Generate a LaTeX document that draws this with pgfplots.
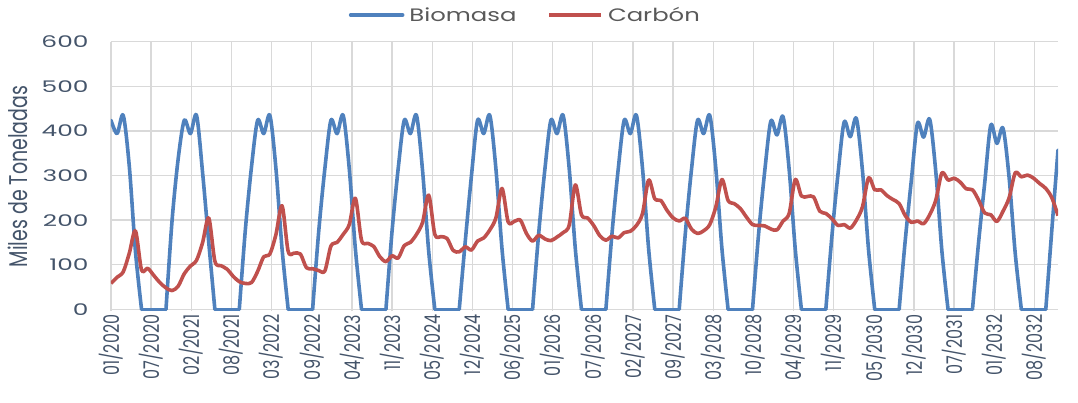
\documentclass[border=0pt]{standalone}
\usepackage{pgfplots}
\pgfplotsset{compat=1.18}
\usepackage{graphicx}
\usepackage{fontspec}
\setmainfont{Poppins}[FakeStretch=1.35]
\newfontfamily\rotfont{Poppins}
\definecolor{bioc}{HTML}{4F81BD}
\definecolor{carc}{HTML}{C0504D}
\definecolor{gridc}{HTML}{D9D9D9}
\definecolor{tickc}{HTML}{44546A}
\definecolor{legc}{HTML}{595959}
% rotated text is stretched across its height, like the horizontal text
\newcommand\sx[1]{\scalebox{1}[1.35]{#1}}
\newcommand\sy[1]{\scalebox{1.15}[1]{#1}}
\tikzset{bio/.style={bioc, line width=3.6pt, smooth, line join=round, line cap=round}}
\begin{document}
\begin{tikzpicture}
\useasboundingbox (-111pt,-90.9pt) rectangle (967pt,311.1pt);
\begin{axis}[
    at={(0pt,0pt)}, anchor=south west,
    scale only axis, width=947pt, height=269.4pt,
    xmin=0, xmax=155, ymin=-4, ymax=600,
    xtick={0,6.5708,13.1417,19.7125,26.2834,32.8542,39.4251,45.9959,52.5667,
        59.1376,65.7084,72.2793,78.8501,85.4209,91.9918,98.5626,105.1335,
        111.7043,118.2752,124.8460,131.4168,137.9877,144.5585,151.1294},
    xticklabels={\sx{01/2020},\sx{07/2020},\sx{02/2021},\sx{08/2021},\sx{03/2022},
        \sx{09/2022},\sx{04/2023},\sx{11/2023},\sx{05/2024},\sx{12/2024},
        \sx{06/2025},\sx{01/2026},\sx{07/2026},\sx{02/2027},\sx{09/2027},
        \sx{03/2028},\sx{10/2028},\sx{04/2029},\sx{11/2029},\sx{05/2030},
        \sx{12/2030},\sx{07/2031},\sx{01/2032},\sx{08/2032}},
    ytick={0,100,200,300,400,500,600},
    yticklabels={\sy{0},\sy{100},\sy{200},\sy{300},\sy{400},\sy{500},\sy{600}},
    xmajorgrids, ymajorgrids,
    grid style={gridc, line width=1.3pt},
    axis line style={draw=none},
    major tick length=0pt,
    yticklabel style={font=\fontsize{16}{19}\selectfont, text=tickc, xshift=-19pt},
    xticklabel style={font=\rotfont\fontsize{16}{19}\selectfont, text=tickc,
        rotate=90, anchor=east},
    ylabel={\sx{Miles de Toneladas}},
    ylabel style={font=\rotfont\fontsize{19}{22}\selectfont, text=tickc,
        at={(axis description cs:-0.0982,0.5)}, anchor=center},
    legend style={at={(0.437,1.099)}, anchor=center, draw=none, fill=none,
        legend columns=2, font=\fontsize{18}{21}\selectfont, text=legc,
        nodes={inner sep=1pt}},
    legend image code/.code={\draw[#1] (0pt,0pt) -- (52pt,0pt);
        \path (56pt,0pt);},
]
% Biomasa: one smooth hump per season, flat zero months drawn straight
\addplot[bio] coordinates {(0,424)(1,394)(2,435)(3,320)(4,130)(5,0)};
\addplot[bio, forget plot] coordinates {(9,0)(10,200)(11,338)(12,424)(13,394)(14,435)(15,305)(16,150)(17,0)};
\addplot[bio, forget plot] coordinates {(21,0)(22,180)(23,320)(24,424)(25,394)(26,435)(27,315)(28,135)(29,0)};
\addplot[bio, forget plot] coordinates {(33,0)(34,175)(35,315)(36,424)(37,394)(38,435)(39,315)(40,135)(41,0)};
\addplot[bio, forget plot] coordinates {(45,0)(46,175)(47,315)(48,424)(49,394)(50,435)(51,310)(52,130)(53,0)};
\addplot[bio, forget plot] coordinates {(57,0)(58,155)(59,300)(60,424)(61,394)(62,435)(63,315)(64,135)(65,0)};
\addplot[bio, forget plot] coordinates {(69,0)(70,170)(71,312)(72,424)(73,394)(74,435)(75,315)(76,135)(77,0)};
\addplot[bio, forget plot] coordinates {(81,0)(82,170)(83,312)(84,424)(85,394)(86,435)(87,315)(88,135)(89,0)};
\addplot[bio, forget plot] coordinates {(93,0)(94,170)(95,312)(96,424)(97,394)(98,435)(99,315)(100,135)(101,0)};
\addplot[bio, forget plot] coordinates {(105,0)(106,170)(107,310)(108,422)(109,391)(110,432)(111,313)(112,134)(113,0)};
\addplot[bio, forget plot] coordinates {(117,0)(118,165)(119,305)(120,420)(121,387)(122,428)(123,310)(124,132)(125,0)};
\addplot[bio, forget plot] coordinates {(129,0)(130,155)(131,290)(132,417)(133,386)(134,426)(135,308)(136,130)(137,0)};
\addplot[bio, forget plot] coordinates {(141,0)(142,150)(143,283)(144,413)(145,372)(146,406)(147,295)(148,125)(149,0)};
\addplot[bio, forget plot] coordinates {(153,0)(154,180)(155,357)};
\addplot[bioc, line width=3.6pt, line cap=round, forget plot, unbounded coords=jump] coordinates {
    (5,0)(9,0)(10,nan)(17,0)(21,0)(22,nan)(29,0)(33,0)(34,nan)(41,0)(45,0)(46,nan)
    (53,0)(57,0)(58,nan)(65,0)(69,0)(70,nan)(77,0)(81,0)(82,nan)(89,0)(93,0)(94,nan)
    (101,0)(105,0)(106,nan)(113,0)(117,0)(118,nan)(125,0)(129,0)(130,nan)
    (137,0)(141,0)(142,nan)(149,0)(153,0)
};
% Carbon
\addplot[carc, line width=3.6pt, smooth, line join=round] coordinates {
    (0,58)(1,72)(2,84)(3,126)(4,176)(5,88)(6,92)(7,76)(8,60)(9,48)(10,42)(11,52)
    (12,80)(13,97)(14,110)(15,150)(16,205)(17,108)(18,98)(19,90)(20,74)(21,62)(22,58)(23,60)
    (24,85)(25,118)(26,124)(27,168)(28,232)(29,130)(30,126)(31,124)(32,93)(33,91)(34,87)(35,86)
    (36,142)(37,150)(38,168)(39,190)(40,249)(41,155)(42,148)(43,141)(44,118)(45,107)(46,120)(47,115)
    (48,143)(49,150)(50,168)(51,195)(52,256)(53,168)(54,163)(55,159)(56,132)(57,129)(58,140)(59,133)
    (60,153)(61,160)(62,178)(63,205)(64,271)(65,196)(66,197)(67,200)(68,170)(69,153)(70,166)(71,158)
    (72,154)(73,162)(74,172)(75,189)(76,279)(77,212)(78,205)(79,188)(80,165)(81,155)(82,164)(83,160)
    (84,172)(85,175)(86,188)(87,215)(88,290)(89,248)(90,244)(91,222)(92,205)(93,198)(94,204)(95,180)
    (96,170)(97,176)(98,190)(99,230)(100,291)(101,244)(102,237)(103,226)(104,207)(105,190)(106,188)(107,187)
    (108,180)(109,178)(110,198)(111,215)(112,291)(113,254)(114,253)(115,252)(116,220)(117,215)(118,203)(119,188)
    (120,190)(121,182)(122,200)(123,230)(124,295)(125,268)(126,268)(127,255)(128,246)(129,237)(130,210)(131,195)
    (132,198)(133,192)(134,212)(135,245)(136,306)(137,290)(138,294)(139,285)(140,270)(141,268)(142,245)(143,216)
    (144,212)(145,197)(146,220)(147,250)(148,306)(149,297)(150,301)(151,294)(152,282)(153,271)(154,250)(155,210)
};
\legend{Biomasa\hspace*{30pt}, Carbón}
\end{axis}
\end{tikzpicture}
\end{document}
